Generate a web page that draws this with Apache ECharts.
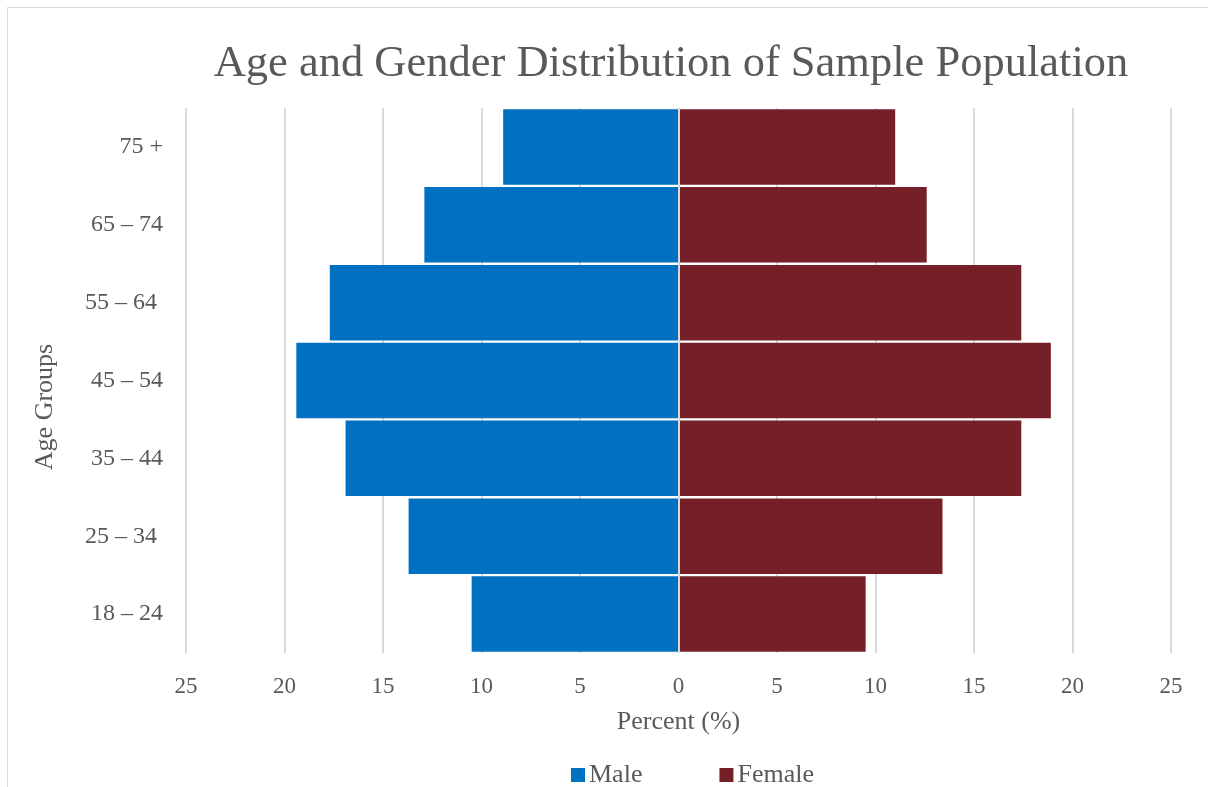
<!DOCTYPE html>
<html>
<head>
<meta charset="utf-8">
<script src="https://cdn.jsdelivr.net/npm/echarts@6/dist/echarts.min.js"></script>
<style>html,body{margin:0;padding:0;background:#fff}#c{width:1208px;height:787px}</style>
</head>
<body>
<div id="c"></div>
<script>
const categories = ['18 – 24', '25 – 34 ', '35 – 44', '45 – 54', '55 – 64 ', '65 – 74', '75 +'];
const maleValues = [10.5, 13.7, 16.9, 19.4, 17.7, 12.9, 8.9];
const femaleValues = [9.5, 13.4, 17.4, 18.9, 17.4, 12.6, 11.0];
const xTicks = { min: -25, max: 25, interval: 5 };

const FONT = '"Liberation Serif", "DejaVu Serif", serif';
const TXT = '#595959';
const chart = echarts.init(document.getElementById('c'));
chart.setOption({
  animation: false,
  backgroundColor: '#fff',
  textStyle: { fontFamily: FONT, color: TXT },
  graphic: [{
    type: 'rect', shape: { x: 7.5, y: 7.5, width: 1400, height: 1000 },
    style: { fill: 'none', stroke: '#d9d9d9', lineWidth: 1 }, z: -1
  }, {
    type: 'text', x: 45, y: 407, rotation: Math.PI / 2,
    style: { text: 'Age Groups', font: '26px ' + FONT, fill: TXT,
      textAlign: 'center', textVerticalAlign: 'middle' }
  }],
  title: {
    text: 'Age and Gender Distribution of Sample Population',
    left: 666, top: 37, textAlign: 'center',
    textStyle: { fontFamily: FONT, fontSize: 44.5, fontWeight: 'normal', color: TXT }
  },
  legend: {
    data: ['Male', 'Female'], top: 757, left: 566, itemGap: 77,
    itemWidth: 14, itemHeight: 14, icon: 'rect',
    textStyle: { fontFamily: FONT, fontSize: 26, color: TXT, padding: [0, 0, 0, -1] }
  },
  grid: { left: 186, right: 37, top: 108, bottom: 134, containLabel: false },
  xAxis: {
    type: 'value', min: xTicks.min, max: xTicks.max, interval: xTicks.interval,
    name: 'Percent (%)', nameLocation: 'middle', nameGap: 56,
    nameTextStyle: { fontFamily: FONT, fontSize: 26, color: TXT },
    axisLine: { show: false }, axisTick: { show: false },
    axisLabel: { fontFamily: FONT, fontSize: 23, color: TXT, margin: 22,
      formatter: v => String(Math.abs(v)) },
    splitLine: { show: true, lineStyle: { color: '#d9d9d9', width: 2 } }
  },
  yAxis: {
    type: 'category', data: categories,
    axisLine: { show: false }, axisTick: { show: false },
    axisLabel: { fontFamily: FONT, fontSize: 24, color: TXT, margin: 23 }
  },
  series: [
    {
      name: 'Male', type: 'bar', data: maleValues.map(v => -v),
      barCategoryGap: '3%', barGap: '-100%',
      itemStyle: { color: '#0070C0' },
      markLine: {
        silent: true, symbol: 'none', label: { show: false },
        lineStyle: { color: '#d9d9d9', width: 2, type: 'solid' },
        data: [{ xAxis: 0 }], z: 10
      }
    },
    {
      name: 'Female', type: 'bar', data: femaleValues,
      barCategoryGap: '3%', barGap: '-100%',
      itemStyle: { color: '#751F28' }
    }
  ]
});
</script>
</body>
</html>
